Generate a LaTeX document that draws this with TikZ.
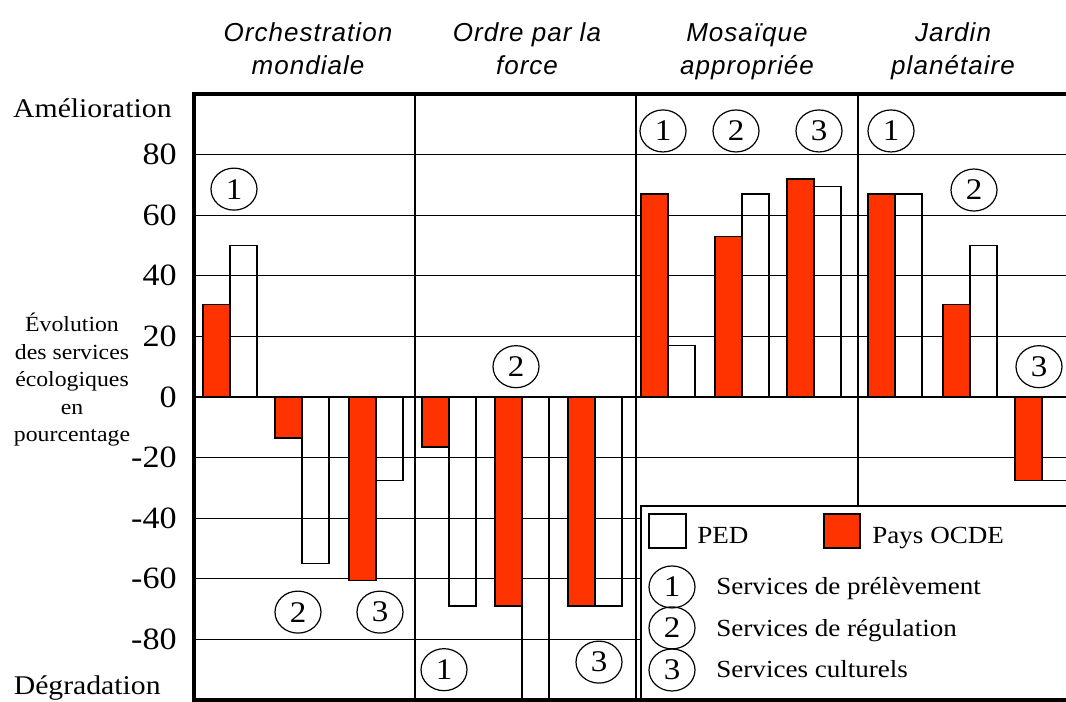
\documentclass[tikz,border=0pt]{standalone}
\usepackage{fontspec}
\setmainfont{Liberation Serif}[FakeStretch=1.1]
\newfontfamily\policetitre{Liberation Sans}[LetterSpace=4]
\usepackage{xcolor}
\usepackage{tikz}
\usetikzlibrary{shapes.geometric}
\definecolor{ocde}{RGB}{255,51,0}
\def\largeur{1066}
\def\gauche{194}

\begin{document}
\begin{tikzpicture}[x=0.5pt, y=1.515pt,
  grille/.style={line width=0.6pt, black},
  cadre/.style={line width=2pt, black, line join=miter},
  barre/.style={line width=0.75pt, draw=black},
  rond/.style={draw, ellipse, line width=0.6pt, minimum width=23pt, minimum height=21pt, inner sep=0pt, font=\fontsize{15}{15}\selectfont},
  titre/.style={font=\policetitre\itshape\fontsize{13}{13}\selectfont, anchor=base},
  graduation/.style={font=\fontsize{15.5}{15.5}\selectfont, anchor=east, inner sep=0pt},
  legende/.style={font=\fontsize{12.3}{12.3}\selectfont, anchor=base west, inner sep=0pt}]
\useasboundingbox (0,-100.66) rectangle (\largeur,131.02);
\clip (0,-100.66) rectangle (\largeur,131.02);
% grille
\foreach \v in {-80,-60,...,80}
  \draw[grille] (\gauche,\v) -- (\largeur,\v);
\foreach \g in {415,636,858}
  \draw[grille] (\g,-100) -- (\g,100);
% barres : OCDE puis PED
\foreach \x/\r/\b in {203/30.5/50, 275/-13.5/-55, 349/-60.5/-27.5,
                      422/-16.5/-69, 495/-69/-100, 568/-69/-69,
                      641/67/17, 715/53/67, 787/72/69.5,
                      868/67/67, 943/30.5/50, 1015/-27.5/-27.5}
{
  \filldraw[barre, fill=ocde] (\x,0) rectangle ++(27,\r);
  \draw[barre] (\x+27,0) rectangle ++(27,\b);
}
% numeros des services
\node[rond] (orch1) at (234,68.6) {1};
\node[rond] (orch2) at (298,-71) {2};
\node[rond] (orch3) at (380,-71) {3};
\node[rond] (ordre1) at (444,-90) {1};
\node[rond] (ordre2) at (516,10) {2};
\node[rond] (ordre3) at (599,-87.5) {3};
\node[rond] (mosa1) at (663,87.8) {1};
\node[rond] (mosa2) at (736,87.8) {2};
\node[rond] (mosa3) at (819,87.8) {3};
\node[rond] (jard1) at (891,87.8) {1};
\node[rond] (jard2) at (974,68.3) {2};
\node[rond] (jard3) at (1039,10) {3};
% titres des scenarios
\foreach \x/\a/\b [count=\i] in {308/Orchestration/mondiale, 527/Ordre par la/force,
                                 747/Mosaïque/appropriée, 953/Jardin/planétaire}
{
  \node[titre] (titreA\i) at (\x,117.2) {\a};
  \node[titre] (titreB\i) at (\x,106.3) {\b};
}
% axe
\foreach \v [count=\i] in {80,60,...,-80}
  \node[graduation] (grad\i) at (177,\v) {\v};
\node[font=\fontsize{13.5}{13.5}\selectfont, anchor=base east, inner sep=0pt] (haut) at (172,92.4) {Amélioration};
\node[font=\fontsize{13.5}{13.5}\selectfont, anchor=base east, inner sep=0pt] (bas) at (161,-98.3) {Dégradation};
\node[align=center, font=\fontsize{10.8}{13.75}\selectfont, inner sep=0pt] (evolution) at (72,5.6)
  {Évolution\\des services\\écologiques\\en\\pourcentage};
% legende
\draw[grille, fill=white] (641,-36) rectangle (\largeur+20,-100);
\draw[barre] (649,-38.6) rectangle (686,-49.8);
\filldraw[barre, fill=ocde] (824,-38.6) rectangle (860,-49.8);
\node[legende] (ped) at (697,-48.5) {PED};
\node[legende] (paysocde) at (872,-48.5) {Pays OCDE};
\node[rond] (leg1) at (672,-62.7) {1};
\node[rond] (leg2) at (672,-76.2) {2};
\node[rond] (leg3) at (672,-90.1) {3};
\node[legende] (prelev) at (716,-65.3) {Services de prélèvement};
\node[legende] (regul) at (716,-79.2) {Services de régulation};
\node[legende] (cultu) at (716,-92.7) {Services culturels};
% cadre
\draw[cadre] (\largeur+20,100) -- (\gauche,100) -- (\gauche,-100) -- (\largeur+20,-100);
\end{tikzpicture}
\end{document}
